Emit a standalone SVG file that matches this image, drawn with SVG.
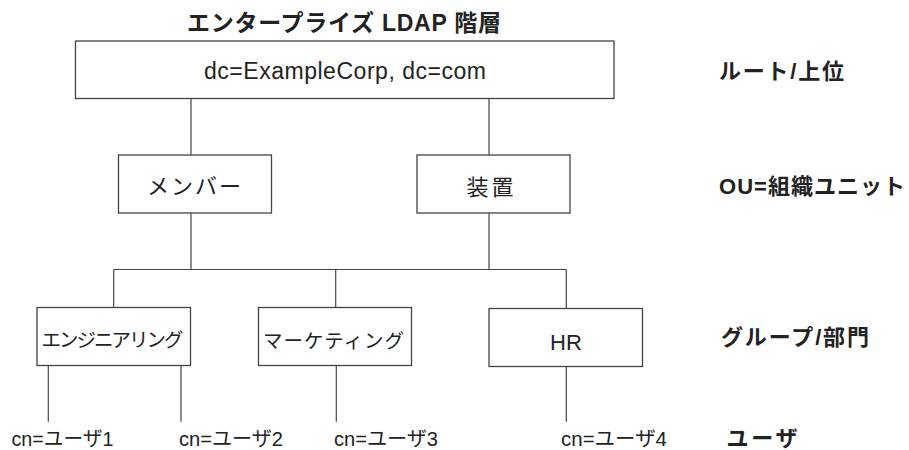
<svg xmlns="http://www.w3.org/2000/svg" width="909" height="450" viewBox="0 0 909 450">
<style>
.box{fill:#fff;stroke:#444;stroke-width:1.3}
.ln{stroke:#444;stroke-width:1.2;fill:none}
.t{font-family:"Liberation Sans","Noto Sans CJK JP",sans-serif;fill:#222}
.b{font-weight:bold}
</style>
<rect width="909" height="450" fill="#fff"/>
<text class="t b" x="187" y="31" font-size="23" textLength="314" lengthAdjust="spacing">エンタープライズ LDAP 階層</text>
<g id="connectors">
<line class="ln" x1="191" y1="98.5" x2="191" y2="155"/>
<line class="ln" x1="489" y1="98.5" x2="489" y2="155"/>
<line class="ln" x1="191" y1="213" x2="191" y2="269.5"/>
<line class="ln" x1="489" y1="213" x2="489" y2="269.5"/>
<line class="ln" x1="113.7" y1="269.5" x2="566.3" y2="269.5"/>
<line class="ln" x1="113.7" y1="269.5" x2="113.7" y2="307.5"/>
<line class="ln" x1="335.7" y1="269.5" x2="335.7" y2="307.5"/>
<line class="ln" x1="566.3" y1="269.5" x2="566.3" y2="308.5"/>
<line class="ln" x1="48.3" y1="365.5" x2="48.3" y2="421.7"/>
<line class="ln" x1="181" y1="365.5" x2="181" y2="421.7"/>
<line class="ln" x1="336.3" y1="365.5" x2="336.3" y2="421.7"/>
<line class="ln" x1="566.3" y1="366.5" x2="566.3" y2="421.7"/>
</g>
<g id="root">
<rect class="box" x="75.5" y="41" width="538.5" height="57.5"/>
<text class="t" x="204" y="79" font-size="23" textLength="282" lengthAdjust="spacing">dc=ExampleCorp, dc=com</text>
</g>
<g id="members">
<rect class="box" x="118.5" y="155" width="153" height="58"/>
<text class="t" x="147" y="194" font-size="22" textLength="94" lengthAdjust="spacing">メンバー</text>
</g>
<g id="devices">
<rect class="box" x="417" y="155" width="153" height="58"/>
<text class="t" x="466.5" y="195" font-size="22" textLength="47" lengthAdjust="spacing">装置</text>
</g>
<g id="engineering">
<rect class="box" x="37" y="307.5" width="153.5" height="58"/>
<text class="t" x="41.5" y="347" font-size="19.5" textLength="142" lengthAdjust="spacing">エンジニアリング</text>
</g>
<g id="marketing">
<rect class="box" x="258.5" y="307.5" width="153" height="58"/>
<text class="t" x="263" y="347.5" font-size="19.5" textLength="141" lengthAdjust="spacing">マーケティング</text>
</g>
<g id="hr">
<rect class="box" x="489" y="308.5" width="153.5" height="58"/>
<text class="t" x="566" y="350" font-size="22" text-anchor="middle">HR</text>
</g>
<g id="user1"><text class="t" x="11.5" y="446" font-size="20" textLength="102" lengthAdjust="spacingAndGlyphs">cn=ユーザ1</text></g>
<g id="user2"><text class="t" x="179" y="446" font-size="20" textLength="104" lengthAdjust="spacingAndGlyphs">cn=ユーザ2</text></g>
<g id="user3"><text class="t" x="334" y="446" font-size="20" textLength="104" lengthAdjust="spacingAndGlyphs">cn=ユーザ3</text></g>
<g id="user4"><text class="t" x="561" y="446" font-size="20" textLength="106" lengthAdjust="spacingAndGlyphs">cn=ユーザ4</text></g>
<g id="labels">
<text class="t b" x="719" y="79" font-size="22" textLength="125" lengthAdjust="spacing">ルート/上位</text>
<text class="t b" x="719" y="194" font-size="22" textLength="186" lengthAdjust="spacing">OU=組織ユニット</text>
<text class="t b" x="721" y="345" font-size="22" textLength="148" lengthAdjust="spacing">グループ/部門</text>
<text class="t b" x="726.5" y="446" font-size="22" textLength="71" lengthAdjust="spacing">ユーザ</text>
</g>
</svg>
